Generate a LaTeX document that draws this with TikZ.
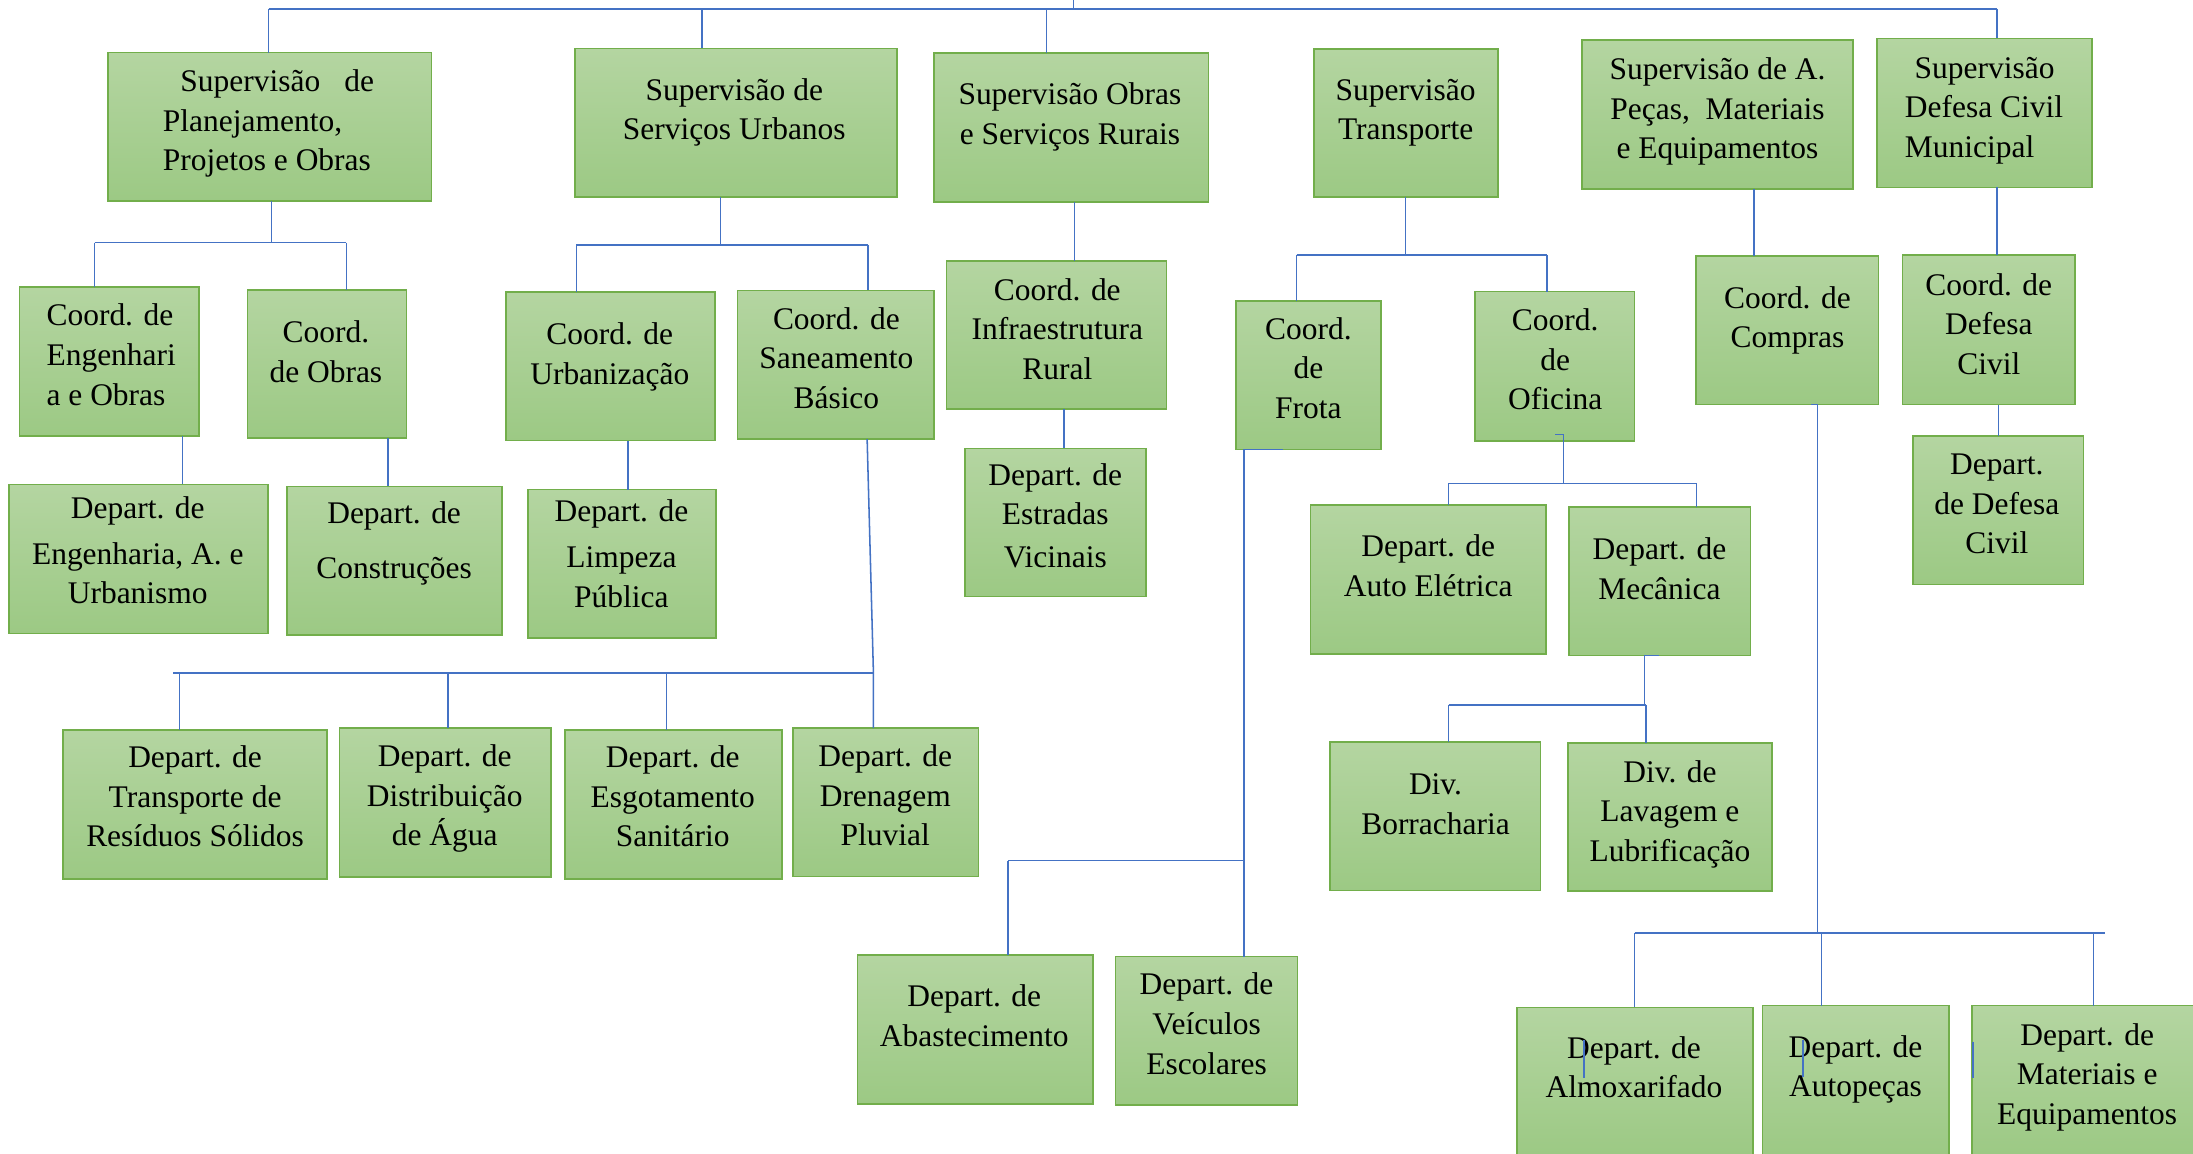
\documentclass[tikz,border=0pt]{standalone}
\usepackage{fontspec}
\setmainfont{Liberation Serif}
\definecolor{boxtop}{HTML}{B4D5A1}
\definecolor{boxbot}{HTML}{9CC984}
\definecolor{boxborder}{HTML}{72AE4B}
\definecolor{connblue}{HTML}{4472C4}
\tikzset{
  obox/.style={draw=boxborder, line width=1.2pt, top color=boxtop, bottom color=boxbot, inner sep=0pt, outer sep=0pt},
  otext/.style={inner sep=0pt, outer sep=0pt, align=center, font=\fontsize{22.5}{28.3}\selectfont, text=black},
  oleft/.style={otext, align=left},
  conn/.style={draw=connblue, line width=1.1pt}
}
% name, x1, y1, x2, y2, text x, first baseline, text
\newcommand\obox[8]{%
  \node[obox, anchor=north west, minimum width={#4-#2}, minimum height={#5-#3}] (#1) at (#2,#3) {};
  \node[otext, anchor=north] (#1-t) at (#6,#7-22) {\rule{0pt}{22pt}#8};}
\newcommand\oboxl[8]{%
  \node[obox, anchor=north west, minimum width={#4-#2}, minimum height={#5-#3}] (#1) at (#2,#3) {};
  \node[oleft, anchor=north west] (#1-t) at (#6,#7-22) {\rule{0pt}{22pt}#8};}
\begin{document}
\begin{tikzpicture}[x=1pt,y=-1pt]
\useasboundingbox (0,0) rectangle (1568,825);
\clip (0,0) rectangle (1568,825);
\fill[white] (0,0) rectangle (1568,825);

% ---- row 1
\oboxl{s1}{77}{37.6}{308.5}{143.7}{116.5}{65.5}{\makebox[151pt][s]{\hspace*{12.5pt}Supervisão\hfill de}\\Planejamento,\\Projetos e Obras}
\obox{s2}{411}{34.6}{641.5}{140.9}{525}{71.5}{Supervisão de\\Serviços Urbanos}
\obox{s3}{667.8}{37.9}{864}{144.4}{765}{75}{Supervisão Obras\\e Serviços Rurais}
\obox{s4}{939.6}{35}{1071}{141}{1005}{71.5}{Supervisão\\Transporte}
\obox{s5}{1131}{28.6}{1324.7}{135}{1228}{57}{Supervisão de A.\\Peças,\ \ Materiais\\e Equipamentos}
\oboxl{s6}{1342}{27.5}{1495.6}{134}{1362}{56}{\hspace*{7pt}Supervisão\\Defesa Civil\\Municipal}

% ---- row 2
\oboxl{c1}{14}{205.4}{142.5}{311.8}{33.3}{233}{Coord. de\\Engenhari\\a e Obras}
\obox{c2}{177}{207.4}{290.6}{313}{233}{245}{Coord.\\de Obras}
\obox{c3}{361.8}{208.8}{511}{315}{436}{246.5}{Coord. de\\Urbanização}
\obox{c4}{527.3}{207.6}{668}{314}{598}{235.5}{Coord. de\\Saneamento\\Básico}
\obox{c5}{676.8}{186.6}{834}{292.5}{756}{214.5}{Coord. de\\Infraestrutura\\Rural}
\obox{c6}{883.7}{215}{987.4}{321.3}{935.5}{242.5}{Coord.\\de\\Frota}
\obox{c7}{1054.7}{208.5}{1168.6}{315.1}{1112}{236.5}{Coord.\\de\\Oficina}
\obox{c8}{1212.7}{182.8}{1343}{289.3}{1278}{220.5}{Coord. de\\Compras}
\obox{c9}{1360.2}{182.3}{1483.5}{289.3}{1422}{211}{Coord. de\\Defesa\\Civil}

% ---- row 3
\obox{d1}{6.2}{346.3}{191.7}{453}{98.5}{371}{Depart. de\\[4pt]Engenharia, A. e\\Urbanismo}
\obox{d2}{205.3}{347.8}{359}{454}{281.8}{374}{Depart. de\\[11pt]Construções}
\obox{d3}{377.6}{350}{511.8}{456}{444.3}{372.6}{Depart. de\\[5pt]Limpeza\\Pública}
\obox{d4}{690}{320.6}{819.5}{426.6}{754.5}{346.8}{Depart. de\\Estradas\\[2pt]Vicinais}
\obox{d5}{937}{361.3}{1105.3}{467.6}{1021.2}{398}{Depart. de\\Auto Elétrica}
\obox{d6}{1121.6}{362.3}{1251.6}{468.6}{1186.5}{400}{Depart. de\\Mecânica}
\obox{d7}{1367.6}{311.6}{1489.8}{417.8}{1427.7}{339.5}{Depart.\\de Defesa\\Civil}

% ---- row 4
\obox{e1}{45.2}{522}{234}{628.5}{139.5}{548.8}{Depart. de\\Transporte de\\Resíduos Sólidos}
\obox{e2}{242.7}{520.6}{394}{627}{318}{548}{Depart. de\\Distribuição\\de Água}
\obox{e3}{404}{522}{559}{628.5}{481}{548.8}{Depart. de\\Esgotamento\\Sanitário}
\obox{e4}{567}{520.6}{699.7}{626.6}{633}{548}{Depart. de\\Drenagem\\Pluvial}
\obox{g1}{950.9}{530.3}{1101.5}{636.8}{1026.4}{568.4}{Div.\\Borracharia}
\obox{g2}{1121.2}{531}{1267.2}{637}{1194}{559.4}{Div. de\\Lavagem e\\Lubrificação}

% ---- row 5
\obox{f1}{613.2}{682.8}{781.3}{789.2}{696.6}{719.8}{Depart. de\\Abastecimento}
\obox{f2}{797.6}{684}{927.7}{790.3}{862.7}{711.4}{Depart. de\\Veículos\\Escolares}
\obox{h1}{1084.7}{720.3}{1253.4}{827}{1168.3}{756.7}{Depart. de\\Almoxarifado}
\obox{h2}{1260.2}{719}{1393.3}{827}{1326.7}{756}{Depart. de\\Autopeças}
\obox{h3}{1410.2}{719}{1574}{827}{1492.3}{747.2}{Depart. de\\Materiais e\\Equipamentos}

% ---- connectors: top bus
\coordinate (top) at (767.6,0);
\coordinate (b0l) at (192,6.4);
\coordinate (b0a) at (502,6.4);
\coordinate (b0b) at (748.3,6.4);
\coordinate (b0r) at (1427.7,6.4);
\draw[conn] (top) -- (top |- b0l);
\draw[conn] (b0l) -- (b0r);
\draw[conn] (b0l) -- (b0l |- s1.north);
\draw[conn] (b0a) -- (b0a |- s2.north);
\draw[conn] (b0b) -- (b0b |- s3.north);
\draw[conn] (b0r) -- (b0r |- s6.north);

% S1
\coordinate (j1) at (194,173.5);
\coordinate (j1l) at (67.6,173.5);
\coordinate (j1r) at (247.6,173.5);
\draw[conn] (j1 |- s1.south) -- (j1);
\draw[conn] (j1l) -- (j1r);
\draw[conn] (j1l) -- (j1l |- c1.north);
\draw[conn] (j1r) -- (j1r |- c2.north);
% S2
\coordinate (j2) at (515.3,175);
\coordinate (j2l) at (412.1,175);
\coordinate (j2r) at (620.5,175);
\draw[conn] (j2 |- s2.south) -- (j2);
\draw[conn] (j2l) -- (j2r);
\draw[conn] (j2l) -- (j2l |- c3.north);
\draw[conn] (j2r) -- (j2r |- c4.north);
% S3
\coordinate (j3) at (768.3,0);
\draw[conn] (j3 |- s3.south) -- (j3 |- c5.north);
% S4
\coordinate (j4) at (1005,182.3);
\coordinate (j4l) at (927,182.3);
\coordinate (j4r) at (1106,182.3);
\draw[conn] (j4 |- s4.south) -- (j4);
\draw[conn] (j4l) -- (j4r);
\draw[conn] (j4l) -- (j4l |- c6.north);
\draw[conn] (j4r) -- (j4r |- c7.north);
% S5, S6
\coordinate (j5) at (1254.2,0);
\draw[conn] (j5 |- s5.south) -- (j5 |- c8.north);
\coordinate (j6) at (1428,0);
\draw[conn] (j6 |- s6.south) -- (j6 |- c9.north);

% coord -> depart
\coordinate (k1) at (130.5,0);
\draw[conn] (k1 |- c1.south) -- (k1 |- d1.north);
\coordinate (k2) at (277.5,0);
\draw[conn] (k2 |- c2.south) -- (k2 |- d2.north);
\coordinate (k3) at (449,0);
\draw[conn] (k3 |- c3.south) -- (k3 |- d3.north);
\coordinate (k4) at (760.8,0);
\draw[conn] (k4 |- c5.south) -- (k4 |- d4.north);
\coordinate (k7) at (1429,0);
\draw[conn] (k7 |- c9.south) -- (k7 |- d7.north);

% Saneamento bus
\coordinate (k8) at (620,0);
\coordinate (j8) at (624.5,481.2);
\coordinate (j8l) at (124,481.2);
\coordinate (j8a) at (128.5,481.2);
\coordinate (j8b) at (320.2,481.2);
\coordinate (j8c) at (476.5,481.2);
\draw[conn] (k8 |- c4.south) -- (j8) -- (j8 |- e4.north);
\draw[conn] (j8l) -- (j8);
\draw[conn] (j8a) -- (j8a |- e1.north);
\draw[conn] (j8b) -- (j8b |- e2.north);
\draw[conn] (j8c) -- (j8c |- e3.north);

% Frota
\coordinate (f0t) at (917.2,0);
\coordinate (jf) at (889.3,615.4);
\coordinate (jfl) at (720.8,615.4);
\draw[conn] (f0t |- c6.south) -- (jf |- c6.south) -- (jf) -- (jf |- f2.north);
\draw[conn] (jfl) -- (jf);
\draw[conn] (jfl) -- (jfl |- f1.north);

% Oficina
\coordinate (t7a) at (1112,310.8);
\coordinate (jo) at (1118,345.6);
\coordinate (jol) at (1035.8,345.6);
\coordinate (jor) at (1213.1,345.6);
\draw[conn] (t7a) -- (t7a -| jo) -- (jo);
\draw[conn] (jol) -- (jor);
\draw[conn] (jol) -- (jol |- d5.north);
\draw[conn] (jor) -- (jor |- d6.north);

% Mecanica
\coordinate (t6a) at (1186.5,0);
\coordinate (jm) at (1175.8,504);
\coordinate (jml) at (1035.8,504);
\coordinate (jmr) at (1177,504);
\draw[conn] (t6a |- d6.south) -- (jm |- d6.south) -- (jm);
\draw[conn] (jml) -- (jmr);
\draw[conn] (jml) -- (jml |- g1.north);
\draw[conn] (jmr) -- (jmr |- g2.north);

% Compras
\coordinate (t8a) at (1295,0);
\coordinate (jc) at (1299.5,667.2);
\coordinate (jcl) at (1168.8,667.2);
\coordinate (jcm) at (1302.5,667.2);
\coordinate (jcr) at (1497,667.2);
\coordinate (jce) at (1505,667.2);
\draw[conn] (t8a |- c8.south) -- (jc |- c8.south) -- (jc);
\draw[conn] (jcl) -- (jce);
\draw[conn] (jcl) -- (jcl |- h1.north);
\draw[conn] (jcm) -- (jcm |- h2.north);
\draw[conn] (jcr) -- (jcr |- h3.north);

% stray marks
\coordinate (x1a) at (1132.6,743.6);
\coordinate (x1b) at (1132.6,771);
\coordinate (x2a) at (1289,743.6);
\coordinate (x2b) at (1289,769.8);
\coordinate (x3a) at (1410.7,744.8);
\coordinate (x3b) at (1410.7,771);
\draw[conn] (x1a) -- (x1b);
\draw[conn] (x2a) -- (x2b);
\draw[conn] (x3a) -- (x3b);
\end{tikzpicture}
\end{document}
